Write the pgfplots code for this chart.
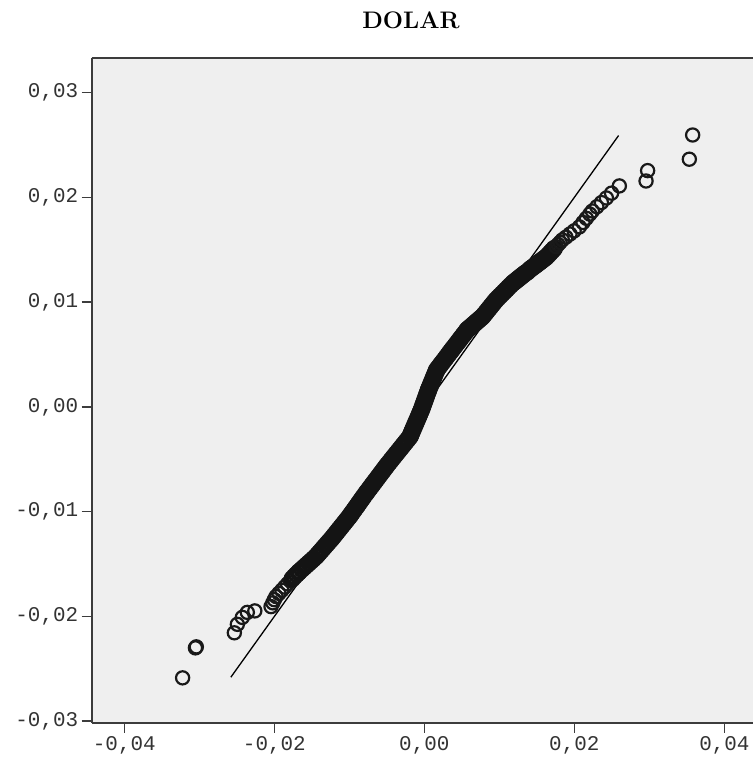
\documentclass[border=0pt]{standalone}
\usepackage{pgfplots}
\pgfplotsset{compat=1.18}
\usepackage{fontspec}
\newfontfamily\tickfont{Liberation Mono}
\definecolor{bgc}{HTML}{EFEFEF}
\definecolor{axc}{HTML}{3C3C3C}
\begin{document}
\begin{tikzpicture}
\begin{axis}[
  name=ax,
  scale only axis,
  width=661.3bp, height=664.7bp,
  xmin=-0.04435, xmax=0.04382,
  ymin=-0.03014, ymax=0.0333,
  scaled ticks=false,
  axis x line=box, axis y line=left,
  axis line style={-, draw=axc, line width=1.8bp},
  every outer x axis line/.append style={-},
  every outer y axis line/.append style={-},
  axis background/.style={fill=bgc},
  tick pos=left,
  tick align=outside,
  major tick length=10bp,
  tick style={draw=axc, line width=1.5bp},
  xtick={-0.04,-0.02,0,0.02,0.04},
  xticklabels={{-0,04},{-0,02},{0,00},{0,02},{0,04}},
  ytick={-0.03,-0.02,-0.01,0,0.01,0.02,0.03},
  yticklabels={{-0,03},{-0,02},{-0,01},{0,00},{0,01},{0,02},{0,03}},
  ticklabel style={font=\tickfont\fontsize{21}{21}\selectfont, text=black!80},
  clip=false,
]
\addplot[black, line width=1.3bp] coordinates {(-0.0258,-0.0258) (0.0259,0.0259)};
% lower tail
\addplot[only marks, mark=o, mark size=6.6bp, mark options={draw=black!90, line width=2.2bp}] coordinates {
(-0.03223,-0.02586)
(-0.03052,-0.02300)
(-0.03040,-0.02290)
(-0.02533,-0.02156)
(-0.02493,-0.02075)
(-0.02427,-0.02009)
(-0.02360,-0.01961)
(-0.02260,-0.01947)
(-0.02044,-0.01906)
(-0.02020,-0.01870)
(-0.02000,-0.01840)
(-0.01977,-0.01810)
(-0.01939,-0.0178)
(-0.01900,-0.0175)
(-0.01862,-0.0172)
(-0.01824,-0.0169)
(-0.01785,-0.0166)
};
% dense middle
\addplot[only marks, mark=o, mark size=7.3bp, mark options={draw=black!92, line width=2.9bp}] coordinates {
(-0.01760,-0.0164)
(-0.01733,-0.01619)
(-0.01706,-0.0160)
(-0.01678,-0.0158)
(-0.01667,-0.01572)
(-0.01633,-0.0155)
(-0.01602,-0.0153)
(-0.01571,-0.0151)
(-0.01540,-0.0149)
(-0.01509,-0.0147)
(-0.01478,-0.0145)
(-0.01444,-0.01428)
(-0.01422,-0.0141)
(-0.01398,-0.0139)
(-0.01373,-0.0137)
(-0.01349,-0.0135)
(-0.01325,-0.0133)
(-0.01300,-0.0131)
(-0.01276,-0.0129)
(-0.01251,-0.0127)
(-0.01227,-0.01250)
(-0.01205,-0.0123)
(-0.01182,-0.0121)
(-0.01160,-0.0119)
(-0.01138,-0.0117)
(-0.01115,-0.0115)
(-0.01093,-0.0113)
(-0.01070,-0.0111)
(-0.01048,-0.0109)
(-0.01026,-0.0107)
(-0.01000,-0.01047)
(-0.00983,-0.0103)
(-0.00963,-0.0101)
(-0.00943,-0.0099)
(-0.00923,-0.0097)
(-0.00903,-0.0095)
(-0.00883,-0.0093)
(-0.00864,-0.0091)
(-0.00844,-0.0089)
(-0.00824,-0.0087)
(-0.00804,-0.0085)
(-0.00777,-0.00823)
(-0.00763,-0.0081)
(-0.00742,-0.0079)
(-0.00721,-0.0077)
(-0.00700,-0.0075)
(-0.00679,-0.0073)
(-0.00658,-0.0071)
(-0.00637,-0.0069)
(-0.00616,-0.0067)
(-0.00595,-0.0065)
(-0.00574,-0.0063)
(-0.00553,-0.0061)
(-0.00532,-0.0059)
(-0.00511,-0.0057)
(-0.00493,-0.00553)
(-0.00467,-0.0053)
(-0.00445,-0.0051)
(-0.00423,-0.0049)
(-0.00400,-0.0047)
(-0.00378,-0.0045)
(-0.00355,-0.0043)
(-0.00333,-0.00410)
(-0.00310,-0.0039)
(-0.00288,-0.0037)
(-0.00265,-0.0035)
(-0.00243,-0.0033)
(-0.00220,-0.0031)
(-0.00193,-0.00286)
(-0.00183,-0.0027)
(-0.00172,-0.0025)
(-0.00160,-0.0023)
(-0.00148,-0.0021)
(-0.00136,-0.0019)
(-0.00124,-0.0017)
(-0.00112,-0.0015)
(-0.00100,-0.0013)
(-0.00088,-0.0011)
(-0.00076,-0.0009)
(-0.00064,-0.0007)
(-0.00053,-0.0005)
(-0.00040,-0.00029)
(-0.00030,-0.0001)
(-0.00020,0.0001)
(-0.00010,0.0003)
(0.00000,0.0005)
(0.00010,0.0007)
(0.00020,0.0009)
(0.00030,0.0011)
(0.00040,0.0013)
(0.00050,0.0015)
(0.00056,0.00162)
(0.00066,0.0018)
(0.00078,0.0020)
(0.00089,0.0022)
(0.00101,0.0024)
(0.00112,0.0026)
(0.00123,0.0028)
(0.00135,0.0030)
(0.00146,0.0032)
(0.00158,0.0034)
(0.00165,0.00353)
(0.00183,0.0037)
(0.00204,0.0039)
(0.00225,0.0041)
(0.00246,0.0043)
(0.00268,0.0045)
(0.00289,0.0047)
(0.00310,0.0049)
(0.00331,0.0051)
(0.00352,0.0053)
(0.00367,0.00544)
(0.00384,0.0056)
(0.00406,0.0058)
(0.00427,0.0060)
(0.00449,0.0062)
(0.00470,0.0064)
(0.00491,0.0066)
(0.00513,0.0068)
(0.00534,0.0070)
(0.00556,0.0072)
(0.00572,0.00735)
(0.00580,0.0074)
(0.00596,0.0075)
(0.00612,0.0076)
(0.00628,0.0077)
(0.00645,0.0078)
(0.00661,0.0079)
(0.00677,0.0080)
(0.00693,0.0081)
(0.00709,0.0082)
(0.00725,0.0083)
(0.00741,0.0084)
(0.00758,0.0085)
(0.00777,0.00862)
(0.00797,0.0088)
(0.00820,0.0090)
(0.00842,0.0092)
(0.00865,0.0094)
(0.00887,0.0096)
(0.00910,0.0098)
(0.00932,0.0100)
(0.00956,0.01021)
(0.00982,0.0104)
(0.01010,0.0106)
(0.01038,0.0108)
(0.01066,0.0110)
(0.01094,0.0112)
(0.01121,0.0114)
(0.01149,0.0116)
(0.01177,0.01180)
(0.01195,0.0119)
(0.01212,0.0120)
(0.01230,0.0121)
(0.01247,0.0122)
(0.01265,0.0123)
(0.01282,0.0124)
(0.01300,0.0125)
(0.01317,0.0126)
(0.01335,0.0127)
(0.01353,0.0128)
(0.01376,0.0129)
(0.01400,0.01307)
(0.01420,0.0132)
(0.01442,0.0133)
(0.01460,0.0134)
(0.01479,0.0135)
(0.01497,0.0136)
(0.01515,0.0137)
(0.01534,0.0138)
(0.01552,0.0139)
(0.01570,0.0140)
(0.01588,0.0141)
(0.01607,0.0142)
(0.01627,0.01431)
(0.01652,0.0145)
(0.01678,0.0147)
(0.01704,0.0149)
(0.01730,0.0151)
};
% upper tail
\addplot[only marks, mark=o, mark size=6.6bp, mark options={draw=black!90, line width=2.2bp}] coordinates {
(0.01756,0.0153)
(0.01783,0.0155)
(0.01809,0.0157)
(0.01840,0.01594)
(0.01888,0.0162)
(0.01942,0.0165)
(0.01997,0.0168)
(0.02067,0.01718)
(0.02115,0.0176)
(0.02160,0.0180)
(0.02206,0.0184)
(0.02240,0.01870)
(0.02300,0.0191)
(0.02361,0.0195)
(0.02427,0.01994)
(0.02496,0.0204)
(0.02600,0.02109)
(0.02956,0.02156)
(0.02977,0.02255)
(0.03533,0.02364)
(0.03577,0.02595)
};
\end{axis}
\node[anchor=base, font=\bfseries\fontsize{24}{24}\selectfont] at ([xshift=319.3bp, yshift=29bp]ax.north west) {DOLAR};
\pgfresetboundingbox
\useasboundingbox ([xshift=-91.7bp,yshift=-46.3bp]ax.south west) rectangle ([yshift=58bp]ax.north east);
\end{tikzpicture}
\end{document}
